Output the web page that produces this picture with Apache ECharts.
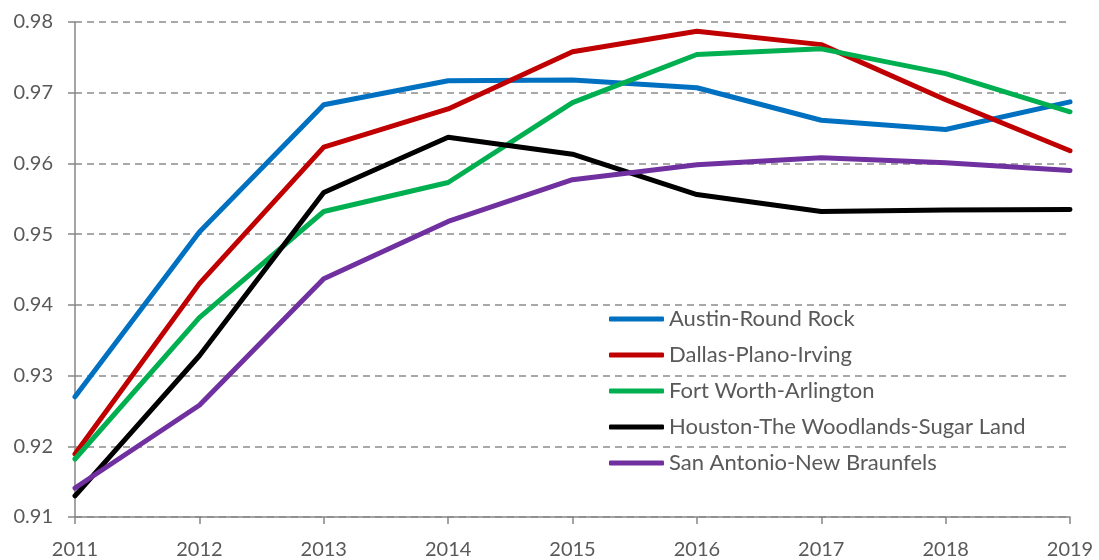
<!DOCTYPE html>
<html>
<head>
<meta charset="utf-8">
<script src="https://cdn.jsdelivr.net/npm/echarts@6/dist/echarts.min.js"></script>
<style>
  html, body { margin: 0; padding: 0; background: #ffffff; }
  #chart { width: 1099px; height: 560px; }
</style>
</head>
<body>
<div id="chart"></div>
<script>
// Years on the horizontal axis
const years = ['2011', '2012', '2013', '2014', '2015', '2016', '2017', '2018', '2019'];

// Metro area series
const austin      = [0.9270, 0.9503, 0.9683, 0.9717, 0.9718, 0.9707, 0.9661, 0.9648, 0.9687];
const dallas      = [0.9189, 0.9430, 0.9623, 0.9677, 0.9758, 0.9787, 0.9768, 0.9690, 0.9618];
const fortWorth   = [0.9182, 0.9382, 0.9532, 0.9573, 0.9686, 0.9754, 0.9762, 0.9727, 0.9673];
const houston     = [0.9130, 0.9328, 0.9559, 0.9637, 0.9613, 0.9556, 0.9532, 0.9534, 0.9535];
const sanAntonio  = [0.9141, 0.9258, 0.9437, 0.9518, 0.9577, 0.9598, 0.9608, 0.9601, 0.9590];

const seriesNames = [
  'Austin-Round Rock',
  'Dallas-Plano-Irving',
  'Fort Worth-Arlington',
  'Houston-The Woodlands-Sugar Land',
  'San Antonio-New Braunfels'
];
const seriesData = [austin, dallas, fortWorth, houston, sanAntonio];
const seriesColors = ['#0070C0', '#C00000', '#00B050', '#000000', '#7030A0'];

const FONT = 'Lato, "Open Sans", sans-serif';
const TEXT = '#595959';
const AXIS = '#868686';

const chart = echarts.init(document.getElementById('chart'), null, { renderer: 'canvas' });

chart.setOption({
  animation: false,
  backgroundColor: '#ffffff',
  grid: { left: 75, right: 29, top: 22, bottom: 41, containLabel: false },
  legend: {
    orient: 'vertical',
    left: 604,
    top: 302,
    itemWidth: 55,
    itemHeight: 5,
    itemGap: 12,
    icon: 'roundRect',
    data: seriesNames,
    textStyle: { fontFamily: FONT, fontSize: 22, color: TEXT, lineHeight: 24 }
  },
  xAxis: {
    type: 'category',
    data: years,
    boundaryGap: false,
    axisLine: { lineStyle: { color: AXIS, width: 1.5 } },
    axisTick: { show: true, length: 7, alignWithLabel: true, lineStyle: { color: AXIS, width: 1.5 } },
    axisLabel: { fontFamily: FONT, fontSize: 20, color: TEXT, margin: 23 },
    splitLine: { show: false }
  },
  yAxis: {
    type: 'value',
    min: 0.91,
    max: 0.98,
    interval: 0.01,
    axisLine: { show: true, lineStyle: { color: AXIS, width: 1.5 } },
    axisTick: { show: true, length: 7, lineStyle: { color: AXIS, width: 1.5 } },
    axisLabel: {
      fontFamily: FONT, fontSize: 20, color: TEXT, margin: 22,
      formatter: v => v.toFixed(2)
    },
    splitLine: {
      show: true,
      lineStyle: { color: '#8c8c8c', width: 1.5, type: [7, 5] }
    }
  },
  series: seriesNames.map((name, i) => ({
    name: name,
    type: 'line',
    data: seriesData[i],
    color: seriesColors[i],
    showSymbol: false,
    symbol: 'none',
    lineStyle: { width: 5, color: seriesColors[i], cap: 'round', join: 'round' },
    emphasis: { disabled: true }
  }))
});
</script>
</body>
</html>
